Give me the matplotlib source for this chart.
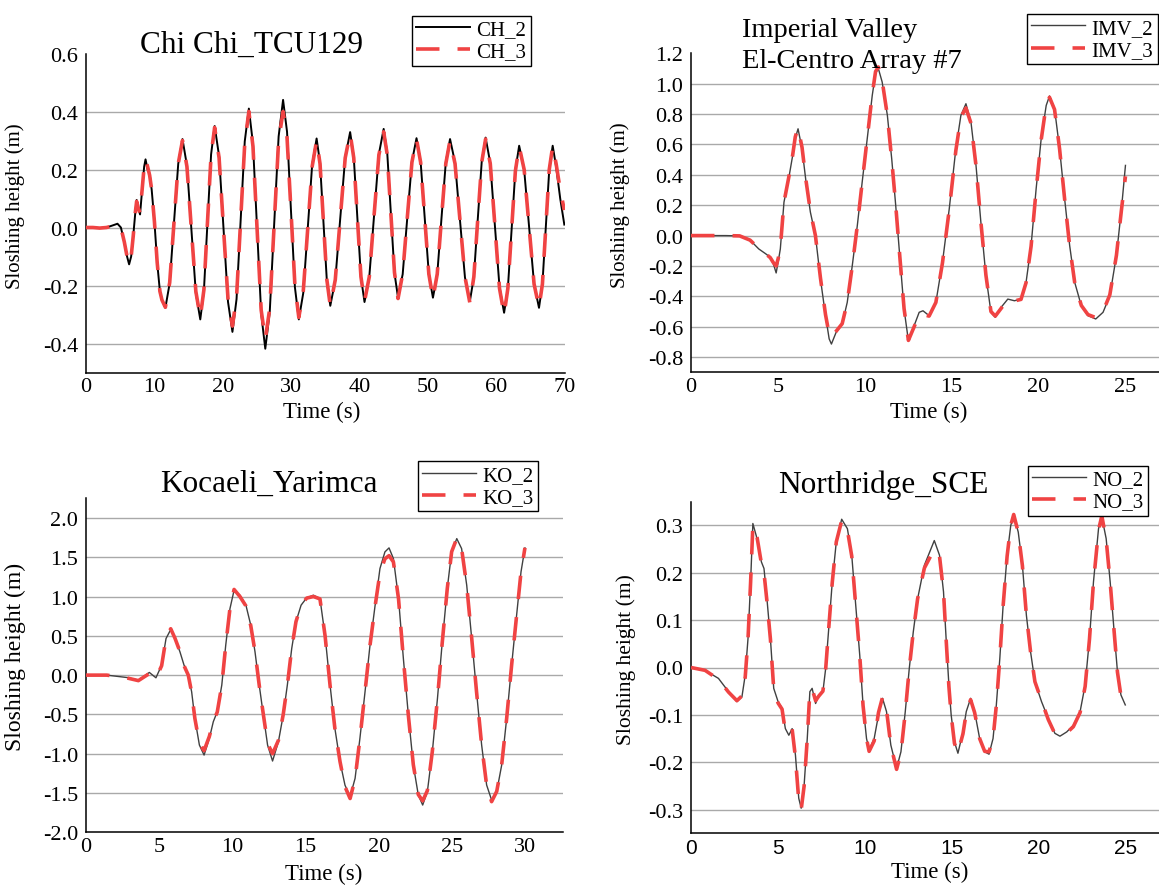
import matplotlib
matplotlib.use('Agg')
import matplotlib.pyplot as plt

plt.rcParams['font.family'] = ['Liberation Serif', 'DejaVu Serif']
plt.rcParams['axes.unicode_minus'] = False

# ---------------- data ----------------
# Chi Chi_TCU129
t_ch = [0, 1, 2, 3, 4, 4.6, 5.1, 5.6, 6.0, 6.3, 6.6, 6.9, 7.2, 7.4, 7.6, 7.9, 8.2, 8.5, 8.7, 9.0,
        9.3, 9.6, 10.0, 10.4, 10.8, 11.1, 11.4, 11.6,
        12.23, 12.85, 13.48, 14.1, 14.75, 15.4, 16.05, 16.7, 17.23, 17.75, 18.28, 18.8,
        19.45, 20.1, 20.75, 21.4, 22.0, 22.6, 23.2, 23.8, 24.4, 25.0, 25.6, 26.2,
        26.85, 27.5, 28.15, 28.8, 29.38, 29.95, 30.53, 31.1, 31.75, 32.4, 33.05, 33.7,
        34.2, 34.7, 35.2, 35.7, 36.43, 37.15, 37.88, 38.6, 39.13, 39.65, 40.18, 40.7,
        41.4, 42.1, 42.8, 43.5, 44.03, 44.55, 45.08, 45.6, 46.28, 46.95, 47.63, 48.3,
        48.9, 49.5, 50.1, 50.7, 51.33, 51.95, 52.58, 53.2, 53.93, 54.65, 55.38, 56.1,
        56.68, 57.25, 57.83, 58.4, 59.08, 59.75, 60.43, 61.1, 61.65, 62.2, 62.75, 63.3,
        64.03, 64.75, 65.48, 66.2, 66.7, 67.2, 67.7, 68.2, 68.7, 69.3, 69.9]
ch_2 = [0, 0, -0.002, 0.0, 0.008, 0.013, 0.0, -0.05, -0.1, -0.127, -0.1, -0.03, 0.05, 0.095, 0.07, 0.045,
        0.13, 0.21, 0.235, 0.2, 0.185, 0.13, 0.02, -0.12, -0.22, -0.25, -0.265, -0.277,
        -0.192, 0.014, 0.22, 0.305, 0.214, -0.006, -0.226, -0.317, -0.219, 0.017, 0.252, 0.35,
        0.246, -0.005, -0.256, -0.36, -0.247, 0.025, 0.297, 0.41, 0.289, -0.004, -0.297, -0.418,
        -0.292, 0.011, 0.314, 0.44, 0.33, 0.06, -0.206, -0.317, -0.226, -0.005, 0.216, 0.307,
        0.223, 0.019, -0.185, -0.27, -0.182, 0.03, 0.242, 0.329, 0.243, 0.036, -0.171, -0.257,
        -0.17, 0.042, 0.253, 0.34, 0.255, 0.049, -0.157, -0.242, -0.161, 0.033, 0.227, 0.308,
        0.227, 0.033, -0.161, -0.242, -0.162, 0.032, 0.225, 0.305, 0.224, 0.026, -0.172, -0.254,
        -0.171, 0.028, 0.227, 0.31, 0.222, 0.008, -0.206, -0.294, -0.21, -0.006, 0.198, 0.282,
        0.2, 0.003, -0.195, -0.277, -0.195, 0.003, 0.2, 0.282, 0.21, 0.1, 0.01]
ch_3 = [0, 0, -0.002, 0.0, 0.006, 0.01, 0.0, -0.05, -0.1, -0.125, -0.1, -0.03, 0.05, 0.09, 0.07, 0.05,
        0.13, 0.21, 0.235, 0.21, 0.18, 0.13, 0.02, -0.12, -0.22, -0.25, -0.265, -0.275,
        -0.19, 0.014, 0.22, 0.30, 0.21, -0.006, -0.22, -0.31, -0.215, 0.017, 0.25, 0.345,
        0.24, -0.005, -0.245, -0.34, -0.24, 0.025, 0.29, 0.40, 0.28, -0.004, -0.285, -0.385,
        -0.28, 0.011, 0.30, 0.40, 0.31, 0.06, -0.2, -0.31, -0.22, -0.005, 0.21, 0.30,
        0.22, 0.019, -0.18, -0.27, -0.18, 0.03, 0.24, 0.325, 0.24, 0.036, -0.17, -0.255,
        -0.17, 0.042, 0.25, 0.33, 0.25, 0.049, -0.155, -0.245, -0.16, 0.033, 0.225, 0.305,
        0.225, 0.033, -0.16, -0.245, -0.16, 0.032, 0.22, 0.30, 0.22, 0.026, -0.17, -0.26,
        -0.17, 0.028, 0.225, 0.305, 0.22, 0.008, -0.21, -0.30, -0.21, -0.006, 0.195, 0.28,
        0.2, 0.003, -0.195, -0.275, -0.195, 0.003, 0.2, 0.28, 0.22, 0.13, 0.06]

# Imperial Valley, El-Centro Array #7
t_imv = [0.0, 1.0, 2.0, 2.8, 3.4, 3.9, 4.3, 4.56, 4.75, 4.9, 5.02, 5.14, 5.35, 5.62, 5.85, 6.0, 6.16,
         6.39, 6.62, 6.87, 7.16, 7.45, 7.74, 7.95, 8.08, 8.35, 8.7, 8.99, 9.28, 9.57, 9.85, 10.14,
         10.43, 10.62, 10.78, 11.0, 11.3, 11.55, 11.78, 12.01, 12.26, 12.51, 12.84, 13.13, 13.35,
         13.7, 14.09, 14.47, 14.86, 15.24, 15.53, 15.82, 16.11, 16.4, 16.68, 16.97, 17.26, 17.51,
         17.84, 18.23, 18.61, 18.99, 19.28, 19.57, 19.86, 20.15, 20.44, 20.63, 20.92, 21.21, 21.5,
         21.79, 22.08, 22.46, 22.84, 23.29, 23.71, 24.1, 24.48, 24.77, 25.0]
imv_2 = [0, 0, 0, -0.002, -0.03, -0.088, -0.12, -0.143, -0.19, -0.246, -0.17, -0.088, 0.22, 0.374,
         0.527, 0.64, 0.703, 0.571, 0.352, 0.154, 0.0, -0.286, -0.527, -0.68, -0.714, -0.637, -0.582,
         -0.44, -0.198, 0.066, 0.352, 0.637, 0.923, 1.07, 1.10, 1.011, 0.791, 0.505, 0.198, -0.132,
         -0.484, -0.692, -0.593, -0.505, -0.495, -0.527, -0.44, -0.176, 0.176, 0.571, 0.791, 0.868,
         0.747, 0.462, 0.088, -0.264, -0.505, -0.538, -0.473, -0.418, -0.429, -0.418, -0.308, -0.066,
         0.308, 0.637, 0.857, 0.919, 0.835, 0.571, 0.242, -0.066, -0.308, -0.462, -0.527, -0.549,
         -0.505, -0.396, -0.132, 0.176, 0.462]
imv_3 = [0, 0, 0, -0.002, -0.03, -0.085, -0.12, -0.145, -0.18, -0.2, -0.15, -0.08, 0.22, 0.38,
         0.53, 0.65, 0.71, 0.58, 0.36, 0.16, 0.0, -0.28, -0.52, -0.65, -0.67, -0.63, -0.58,
         -0.44, -0.2, 0.066, 0.35, 0.64, 0.93, 1.08, 1.11, 1.02, 0.79, 0.5, 0.2, -0.13,
         -0.48, -0.69, -0.6, -0.52, -0.52, -0.53, -0.44, -0.18, 0.17, 0.56, 0.78, 0.84,
         0.74, 0.46, 0.09, -0.26, -0.5, -0.53, -0.48, -0.42, -0.43, -0.42, -0.31, -0.07,
         0.3, 0.63, 0.86, 0.91, 0.83, 0.57, 0.24, -0.07, -0.31, -0.46, -0.52, -0.54,
         -0.5, -0.39, -0.13, 0.17, 0.39]

# Kocaeli_Yarimca
t_ko = [0, 1.42, 2.78, 3.58, 4.33, 4.78, 5.17, 5.47, 5.79, 6.08, 6.42, 6.7, 6.99, 7.22, 7.44, 7.75,
        8.07, 8.43, 8.7, 8.97, 9.28, 9.55, 9.84, 10.12, 10.52, 10.93, 11.26, 11.55, 11.84, 12.12,
        12.41, 12.75, 13.15, 13.48, 13.76, 14.06, 14.35, 14.7, 15.08, 15.54, 15.99, 16.34, 16.68,
        17.01, 17.36, 17.7, 18.05, 18.39, 18.72, 19.07, 19.41, 19.76, 20.09, 20.43, 20.71, 21.01,
        21.36, 21.69, 22.03, 22.37, 22.71, 23.01, 23.33, 23.67, 24.02, 24.35, 24.69, 24.99, 25.34,
        25.67, 26.02, 26.36, 26.69, 27.04, 27.38, 27.72, 28.07, 28.41, 28.75, 29.09, 29.43, 29.73, 30.0]
ko_2 = [0, 0, -0.03, -0.064, 0.034, -0.034, 0.127, 0.466, 0.58, 0.466, 0.297, 0.127, 0.0, -0.212,
        -0.551, -0.89, -1.017, -0.805, -0.593, -0.466, -0.127, 0.381, 0.847, 1.08, 1.017, 0.89,
        0.636, 0.297, -0.127, -0.508, -0.89, -1.093, -0.847, -0.508, -0.127, 0.339, 0.678, 0.89,
        0.983, 1.017, 0.975, 0.5, -0.127, -0.678, -1.1, -1.4, -1.547, -1.314, -0.805, -0.212,
        0.381, 0.89, 1.356, 1.568, 1.619, 1.483, 0.975, 0.212, -0.508, -1.144, -1.525, -1.653,
        -1.483, -0.975, -0.297, 0.424, 1.102, 1.568, 1.737, 1.61, 1.144, 0.466, -0.212, -0.89,
        -1.398, -1.589, -1.483, -1.144, -0.551, 0.127, 0.763, 1.314, 1.619]
ko_3 = [0, 0, -0.035, -0.07, 0.02, -0.04, 0.12, 0.47, 0.59, 0.47, 0.3, 0.12, 0.0, -0.22,
        -0.55, -0.87, -0.96, -0.78, -0.59, -0.47, -0.13, 0.38, 0.85, 1.09, 1.0, 0.88,
        0.63, 0.3, -0.13, -0.5, -0.87, -1.0, -0.83, -0.5, -0.13, 0.34, 0.68, 0.89,
        0.98, 1.0, 0.97, 0.5, -0.13, -0.68, -1.1, -1.42, -1.57, -1.32, -0.81, -0.21,
        0.38, 0.88, 1.3, 1.48, 1.52, 1.44, 0.97, 0.21, -0.51, -1.14, -1.52, -1.6,
        -1.47, -0.97, -0.3, 0.42, 1.1, 1.57, 1.74, 1.61, 1.14, 0.47, -0.21, -0.89,
        -1.4, -1.61, -1.48, -1.14, -0.55, 0.13, 0.76, 1.31, 1.62]

# Northridge_SCE
t_no = [0.0, 0.81, 1.58, 2.16, 2.64, 2.93, 3.12, 3.28, 3.43, 3.56, 3.8, 4.05, 4.2, 4.37, 4.57, 4.76,
        5.01, 5.24, 5.43, 5.63, 5.82, 6.01, 6.2, 6.34, 6.51, 6.69, 6.84, 6.97, 7.17, 7.36, 7.59,
        7.75, 7.94, 8.13, 8.36, 8.67, 9.0, 9.25, 9.48, 9.71, 9.9, 10.1, 10.25, 10.54, 10.79, 11.02,
        11.25, 11.5, 11.83, 12.08, 12.33, 12.56, 12.79, 13.04, 13.43, 14.0, 14.3, 14.53, 14.68,
        14.84, 14.97, 15.16, 15.36, 15.65, 15.84, 16.09, 16.32, 16.61, 16.9, 17.15, 17.38, 17.57,
        17.77, 17.96, 18.19, 18.4, 18.57, 18.83, 19.07, 19.3, 19.54, 19.79, 20.17, 20.56, 20.94,
        21.23, 21.62, 22.0, 22.39, 22.68, 22.93, 23.16, 23.45, 23.64, 23.89, 24.12, 24.35, 24.54,
        24.74, 24.99]
no_2 = [0.0, -0.006, -0.023, -0.051, -0.072, -0.062, -0.016, 0.061, 0.181, 0.304, 0.272, 0.223,
        0.209, 0.145, 0.061, -0.044, -0.072, -0.086, -0.129, -0.143, -0.129, -0.185, -0.276, -0.297,
        -0.248, -0.15, -0.051, -0.044, -0.076, -0.058, -0.051, -0.002, 0.089, 0.181, 0.265, 0.313,
        0.293, 0.237, 0.131, 0.026, -0.079, -0.15, -0.174, -0.15, -0.1, -0.065, -0.093, -0.164,
        -0.213, -0.178, -0.093, -0.002, 0.075, 0.145, 0.216, 0.268, 0.237, 0.16, 0.061, -0.037,
        -0.1, -0.157, -0.181, -0.136, -0.093, -0.065, -0.093, -0.15, -0.178, -0.183, -0.15, -0.079,
        0.019, 0.131, 0.237, 0.3, 0.321, 0.286, 0.216, 0.11, 0.033, -0.03, -0.072, -0.108, -0.139,
        -0.145, -0.136, -0.122, -0.093, -0.037, 0.061, 0.181, 0.293, 0.318, 0.272, 0.181, 0.075,
        -0.009, -0.058, -0.079]
no_3 = [0.0, -0.006, -0.025, -0.052, -0.07, -0.06, -0.02, 0.06, 0.18, 0.3, 0.275, 0.22,
        0.2, 0.14, 0.06, -0.045, -0.075, -0.088, -0.135, -0.14, -0.13, -0.19, -0.28, -0.3,
        -0.25, -0.15, -0.05, -0.045, -0.07, -0.06, -0.05, -0.003, 0.09, 0.18, 0.265, 0.31,
        0.29, 0.235, 0.13, 0.025, -0.08, -0.15, -0.177, -0.155, -0.095, -0.063, -0.09, -0.165,
        -0.215, -0.18, -0.095, -0.002, 0.075, 0.145, 0.21, 0.25, 0.235, 0.16, 0.06, -0.04,
        -0.1, -0.16, -0.18, -0.14, -0.095, -0.068, -0.095, -0.15, -0.177, -0.178, -0.15, -0.08,
        0.02, 0.13, 0.235, 0.3, 0.323, 0.285, 0.215, 0.11, 0.033, -0.03, -0.07, -0.11, -0.14,
        -0.14, -0.138, -0.125, -0.095, -0.04, 0.06, 0.18, 0.29, 0.32, 0.27, 0.18, 0.075,
        -0.01, -0.06, -0.082]

titles = ['Chi Chi_TCU129', 'Imperial Valley\nEl-Centro Array #7', 'Kocaeli_Yarimca', 'Northridge_SCE']
legend_labels = [('CH_2', 'CH_3'), ('IMV_2', 'IMV_3'), ('KO_2', 'KO_3'), ('NO_2', 'NO_3')]
x_label = 'Time (s)'
y_label = 'Sloshing height (m)'
yticks_ch = [-0.4, -0.2, 0.0, 0.2, 0.4, 0.6]
yticks_imv = [-0.8, -0.6, -0.4, -0.2, 0.0, 0.2, 0.4, 0.6, 0.8, 1.0, 1.2]
yticks_ko = [-2.0, -1.5, -1.0, -0.5, 0.0, 0.5, 1.0, 1.5, 2.0]
yticks_no = [-0.3, -0.2, -0.1, 0.0, 0.1, 0.2, 0.3]
xticks_ch = [0, 10, 20, 30, 40, 50, 60, 70]
xticks_imv = [0, 5, 10, 15, 20, 25]
xticks_ko = [0, 5, 10, 15, 20, 25, 30]
xticks_no = [0, 5, 10, 15, 20, 25]

# ---------------- layout / style ----------------
W, H = 1159, 887
fig = plt.figure(figsize=(W / 100, H / 100), dpi=100)
RED = '#F04343'
GRID = '#A9A9A9'

def add_axes_px(left, top, right, bottom):
    return fig.add_axes([left / W, 1 - bottom / H, (right - left) / W, (bottom - top) / H])

panels = [
    dict(box=(86, 54.5, 565, 373.5), t=t_ch, s2=ch_2, s3=ch_3, xlim=(0, 70), ylim=(-0.5, 0.6),
         xt=xticks_ch, yt=yticks_ch, bcol='#000000', blw=1.4, ylab=(-0.127, 0.525), ylfs=15,
         xlab=(0.492, -0.1395), leg=(412, 16.5), xsans=False),
    dict(box=(691, 54.3, 1159, 373.3), t=t_imv, s2=imv_2, s3=imv_3, xlim=(0, 26.93), ylim=(-0.9, 1.2),
         xt=xticks_imv, yt=yticks_imv, bcol='#404040', blw=1.0, ylab=(-0.130, 0.528), ylfs=15,
         xlab=(0.5085, -0.140), leg=(1027, 15), xsans=False),
    dict(box=(86, 499.3, 563, 833.3), t=t_ko, s2=ko_2, s3=ko_3, xlim=(0, 32.6), ylim=(-2.0, 2.25),
         xt=xticks_ko, yt=yticks_ko, bcol='#404040', blw=1.0, ylab=(-0.126, 0.529), ylfs=17,
         xlab=(0.4985, -0.1395), leg=(418, 462.3), xsans=False),
    dict(box=(691, 502.7, 1159, 834.3), t=t_no, s2=no_2, s3=no_3, xlim=(0, 26.93), ylim=(-0.35, 0.35),
         xt=xticks_no, yt=yticks_no, bcol='#404040', blw=1.0, ylab=(-0.117, 0.526), ylfs=15.5,
         xlab=(0.509, -0.132), leg=(1028, 466.7), xsans=True),
]

for i, p in enumerate(panels):
    ax = add_axes_px(*p['box'])
    l2, = ax.plot(p['t'], p['s2'], color=p['bcol'], lw=p['blw'], solid_joinstyle='round', zorder=3,
                  label=legend_labels[i][0])
    l3, = ax.plot(p['t'], p['s3'], color=RED, lw=2.6, linestyle=(0, (6.5, 5.0)),
                  dash_capstyle='butt', zorder=4, label=legend_labels[i][1])
    ax.set_xlim(*p['xlim'])
    ax.set_ylim(*p['ylim'])
    ax.set_xticks(p['xt'])
    ax.set_yticks(p['yt'])
    ax.set_yticklabels(['%.1f' % v for v in p['yt']])
    ax.tick_params(axis='both', length=0, labelsize=16)
    ax.tick_params(axis='x', pad=3.5)
    ax.tick_params(axis='y', pad=5.5)
    if p['xsans']:
        for lab in ax.get_xticklabels():
            lab.set_fontfamily('Liberation Sans')
            lab.set_fontsize(15)
    for s in ('top', 'right'):
        ax.spines[s].set_visible(False)
    for s in ('left', 'bottom'):
        ax.spines[s].set_linewidth(1.1)
        ax.spines[s].set_color('black')
    ax.yaxis.grid(True, color=GRID, lw=1.0)
    ax.set_axisbelow(True)
    for v, tk in zip(p['yt'], ax.yaxis.get_major_ticks()):
        if abs(v - p['ylim'][1]) < 1e-9 or abs(v - p['ylim'][0]) < 1e-9:
            tk.gridline.set_visible(False)
    ax.set_ylabel(y_label, fontsize=p['ylfs'])
    ax.yaxis.set_label_coords(*p['ylab'])
    ax.set_xlabel(x_label, fontsize=16.5)
    ax.xaxis.set_label_coords(*p['xlab'])
    ax.xaxis.label.set_verticalalignment('baseline')
    lx, ly = p['leg']
    leg = ax.legend(handles=[l2, l3], loc='upper left',
                    bbox_to_anchor=(lx / W, 1 - ly / H), bbox_transform=fig.transFigure,
                    borderaxespad=0, fontsize=15, handlelength=2.6, handletextpad=0.3,
                    borderpad=0.2, labelspacing=0.12, fancybox=False, frameon=True)
    leg.get_frame().set_edgecolor('black')
    leg.get_frame().set_linewidth(1.0)
    leg.get_frame().set_alpha(1)

# titles
fig.text(252 / W, 1 - 52.5 / H, titles[0], ha='center', va='baseline', fontsize=22.5)
t1, t2 = titles[1].split('\n')
fig.text(742.5 / W, 1 - 36.7 / H, t1, ha='left', va='baseline', fontsize=20.5)
fig.text(742.5 / W, 1 - 68.3 / H, t2, ha='left', va='baseline', fontsize=20.5)
fig.text(269 / W, 1 - 491.7 / H, titles[2], ha='center', va='baseline', fontsize=22.5)
fig.text(883.5 / W, 1 - 492.7 / H, titles[3], ha='center', va='baseline', fontsize=22.5)

fig.savefig('out.png', dpi=100, facecolor='white')
